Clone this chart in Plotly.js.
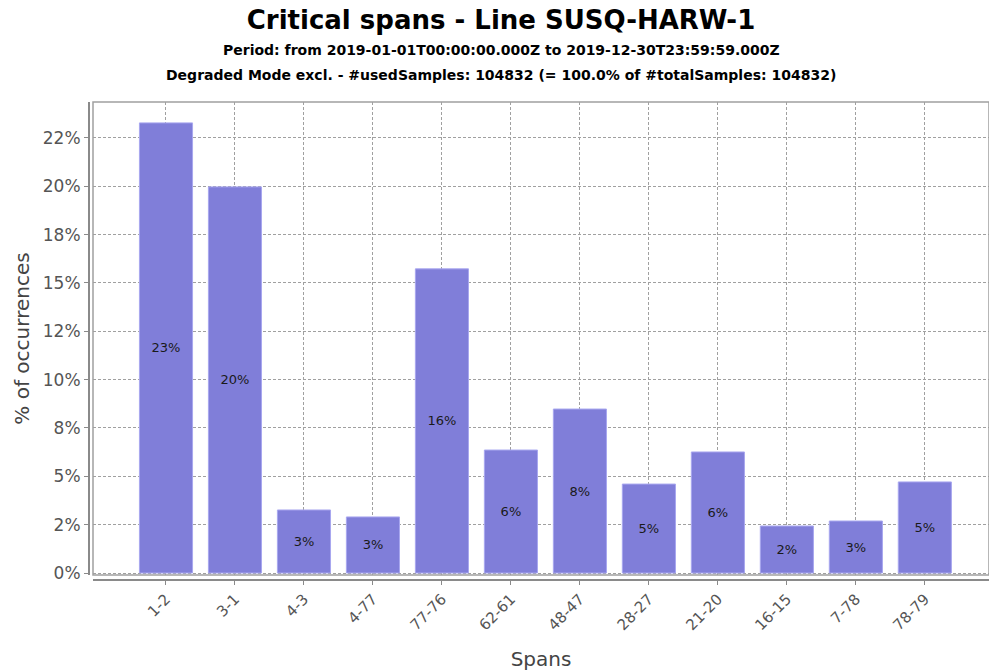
<!DOCTYPE html>
<html><head><meta charset="utf-8">
<script src="https://cdn.plot.ly/plotly-3.0.1.min.js"></script>
<style>html,body{margin:0;padding:0;background:#fff;}#chart{width:989px;height:671px;}</style>
</head><body><div id="chart"></div>
<script>
const spans = ['1-2','3-1','4-3','4-77','77-76','62-61','48-47','28-27','21-20','16-15','7-78','78-79'];
const occurrencePct = [23.28,19.97,3.26,2.90,15.73,6.36,8.48,4.60,6.26,2.43,2.69,4.71];
const barLabels = ['23%','20%','3%','3%','16%','6%','8%','5%','6%','2%','3%','5%'];
const yTickVals = [0,2.5,5,7.5,10,12.5,15,17.5,20,22.5];
const yTickText = ['0%','2%','5%','8%','10%','12%','15%','18%','20%','22%'];

const trace = {
  type: 'bar',
  x: spans,
  y: occurrencePct,
  text: barLabels,
  textposition: 'inside',
  insidetextanchor: 'middle',
  textangle: 0,
  constraintext: 'none',
  textfont: {family: 'DejaVu Sans', size: 13, color: '#1a1a1a'},
  width: 0.77,
  marker: {color: '#807ed9', line: {color: '#a8a7ef', width: 1}},
  hoverinfo: 'none'
};

const gridStyle = {gridcolor: '#a0a0a0', griddash: '3px,2px', gridwidth: 1};

const layout = {
  width: 989, height: 671,
  margin: {l: 88, r: 0, t: 102, b: 92},
  paper_bgcolor: '#fff', plot_bgcolor: '#fff',
  showlegend: false,
  hovermode: false,
  title: {
    text: 'Critical spans - Line SUSQ-HARW-1',
    font: {family: 'DejaVu Sans', size: 26, color: '#000', weight: 'bold'},
    x: 501/989, xref: 'container', xanchor: 'center',
    y: 1 - 20/671, yref: 'container', yanchor: 'middle'
  },
  xaxis: Object.assign({
    type: 'category',
    domain: [5/901, 1],
    anchor: 'free', position: 0,
    range: [-1.058, 11.93],
    showgrid: true,
    showline: true, linecolor: '#8a8a8a', linewidth: 1.5,
    ticks: 'outside', ticklen: 4, tickcolor: '#8a8a8a',
    tickangle: -45,
    tickfont: {family: 'DejaVu Sans', size: 15, color: '#555'},
    title: {text: 'Spans', font: {family: 'DejaVu Sans', size: 20, color: '#444'}, standoff: 20},
    zeroline: false, fixedrange: true
  }, gridStyle),
  yaxis: Object.assign({
    domain: [4/477, 1],
    anchor: 'free', position: 0,
    range: [-0.103, 24.36],
    tickvals: yTickVals, ticktext: yTickText,
    showgrid: true,
    showline: true, linecolor: '#8a8a8a', linewidth: 1.5,
    ticks: 'outside', ticklen: 4, tickcolor: '#8a8a8a',
    tickfont: {family: 'DejaVu Sans', size: 17, color: '#555'},
    title: {text: '% of occurrences', font: {family: 'DejaVu Sans', size: 20, color: '#444'}, standoff: 6},
    zeroline: false, fixedrange: true
  }, gridStyle),
  shapes: [
    {type: 'rect', xref: 'x domain', yref: 'y domain', x0: 0, x1: 1, y0: 0, y1: 1,
     line: {color: '#a0a0a0', width: 1.5}, layer: 'below'}
  ],
  annotations: [
    {text: 'Period: from 2019-01-01T00:00:00.000Z to 2019-12-30T23:59:59.000Z',
     xref: 'paper', yref: 'paper', x: (501-88)/901, y: (579-50)/477, xanchor: 'center', yanchor: 'middle',
     showarrow: false, font: {family: 'DejaVu Sans', size: 14, color: '#000', weight: 'bold'}},
    {text: 'Degraded Mode excl. - #usedSamples: 104832 (= 100.0% of #totalSamples: 104832)',
     xref: 'paper', yref: 'paper', x: (501-88)/901, y: (579-75)/477, xanchor: 'center', yanchor: 'middle',
     showarrow: false, font: {family: 'DejaVu Sans', size: 14, color: '#000', weight: 'bold'}}
  ]
};

Plotly.newPlot('chart', [trace], layout, {displayModeBar: false, staticPlot: true});
</script>
</body></html>
